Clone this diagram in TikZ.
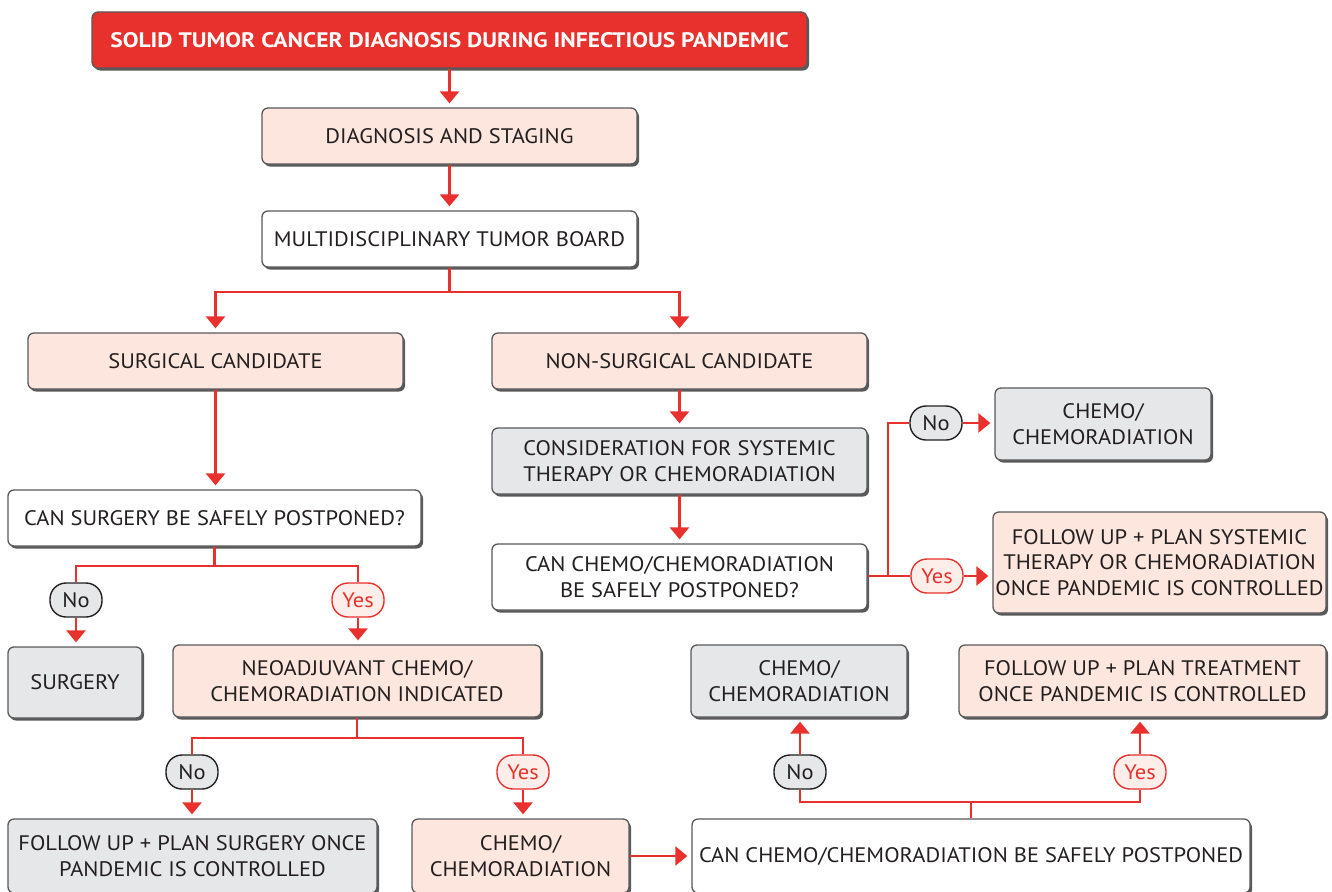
\documentclass[tikz,border=0pt]{standalone}
\usepackage{fontspec}
\setmainfont{PT Sans}[FakeStretch=1.07, BoldFeatures={FakeStretch=1.12}]
\usetikzlibrary{shadows,arrows.meta}
\definecolor{cred}{HTML}{E8312C}
\definecolor{peach}{HTML}{FCE6DD}
\definecolor{lgray}{HTML}{E6E7E8}
\definecolor{bord}{HTML}{58595B}
\definecolor{txt}{HTML}{231F20}
\definecolor{yesfill}{HTML}{FDEEEA}
\begin{document}
\begin{tikzpicture}[x=1pt,y=-1pt,
  box/.style={draw=bord, line width=1.3pt, rounded corners=6pt, align=center,
    text=txt, font=\fontsize{21}{25.5}\selectfont, inner sep=0pt,
    drop shadow={shadow xshift=2pt, shadow yshift=-2.5pt, fill=black!65, opacity=1}},
  pbox/.style={box, fill=peach},
  gbox/.style={box, fill=lgray},
  wbox/.style={box, fill=white},
  pill/.style={line width=1.4pt, rounded corners=16pt, minimum width=52pt,
    minimum height=34pt, inner sep=0pt, font=\fontsize{21}{25}\selectfont},
  nopill/.style={pill, draw=txt, fill=lgray, text=txt},
  yespill/.style={pill, draw=cred, fill=yesfill, text=cred},
  ln/.style={draw=cred, line width=2.6pt},
  arr/.style={ln, -{Triangle[width=19pt,length=12pt]}, shorten >=4pt}
]
\useasboundingbox (0,0) rectangle (1332,891);

% boxes
\node[box, fill=cred, text=white, font=\bfseries\fontsize{21}{25}\selectfont,
  minimum width=715pt, minimum height=56pt] (top) at (449.5,40) {SOLID TUMOR CANCER DIAGNOSIS DURING INFECTIOUS PANDEMIC};
\node[pbox, minimum width=375pt, minimum height=56pt] (diag) at (449.5,136) {DIAGNOSIS AND STAGING};
\node[wbox, minimum width=375pt, minimum height=56pt] (mtb) at (449.5,239) {MULTIDISCIPLINARY TUMOR BOARD};
\node[pbox, minimum width=375pt, minimum height=56pt] (surg) at (215.5,361) {SURGICAL CANDIDATE};
\node[pbox, minimum width=375pt, minimum height=56pt] (nsurg) at (679.5,361) {NON-SURGICAL CANDIDATE};
\node[wbox, minimum width=413pt, minimum height=56pt] (cansurg) at (214.5,518) {CAN SURGERY BE SAFELY POSTPONED?};
\node[gbox, minimum width=134pt, minimum height=71pt] (surgery) at (75,682.5) {SURGERY};
\node[pbox, minimum width=368pt, minimum height=72pt] (neo) at (357,681) {NEOADJUVANT CHEMO/\\CHEMORADIATION INDICATED};
\node[gbox, minimum width=369pt, minimum height=74pt] (fus) at (192.5,856) {FOLLOW UP + PLAN SURGERY ONCE\\PANDEMIC IS CONTROLLED};
\node[pbox, minimum width=217pt, minimum height=74pt] (chemoL) at (520.5,856) {CHEMO/\\CHEMORADIATION};
\node[wbox, minimum width=558pt, minimum height=74pt] (cancb) at (971,856) {CAN CHEMO/CHEMORADIATION BE SAFELY POSTPONED};
\node[gbox, minimum width=216pt, minimum height=72pt] (chemoM) at (799,681) {CHEMO/\\CHEMORADIATION};
\node[pbox, minimum width=367pt, minimum height=72pt] (fut) at (1142.5,681) {FOLLOW UP + PLAN TREATMENT\\ONCE PANDEMIC IS CONTROLLED};
\node[gbox, minimum width=375pt, minimum height=66pt] (consid) at (679.5,461) {CONSIDERATION FOR SYSTEMIC\\THERAPY OR CHEMORADIATION};
\node[wbox, minimum width=375pt, minimum height=66pt] (cancs) at (679.5,577) {CAN CHEMO/CHEMORADIATION\\BE SAFELY POSTPONED?};
\node[gbox, minimum width=216pt, minimum height=72pt] (chemoTR) at (1103,424) {CHEMO/\\CHEMORADIATION};
\node[pbox, minimum width=333pt, minimum height=101pt] (fups) at (1159.5,562.5) {FOLLOW UP + PLAN SYSTEMIC\\THERAPY OR CHEMORADIATION\\ONCE PANDEMIC IS CONTROLLED};

% pills
\node[nopill] (no1) at (76,600) {No};
\node[yespill] (yes1) at (358,600) {Yes};
\node[nopill] (no2) at (192,772) {No};
\node[yespill] (yes2) at (523,772) {Yes};
\node[nopill] (no3) at (800,772) {No};
\node[yespill] (yes3) at (1140,772) {Yes};
\node[nopill] (no4) at (936,423) {No};
\node[yespill] (yes4) at (937,576) {Yes};

% junctions
\coordinate (j1) at (449.5,292);
\coordinate (j2) at (214.5,566);
\coordinate (j3) at (357,738);
\coordinate (j4) at (971,802);
\coordinate (j5) at (888,576);

% connectors
\draw[arr] (top) -- (diag);
\draw[arr] (diag) -- (mtb);
\draw[ln] (mtb) -- (j1);
\draw[arr] (j1) -| (surg);
\draw[arr] (j1) -| (nsurg);
\draw[arr] (surg) -- (surg |- cansurg.north);
\draw[ln] (cansurg) -- (j2);
\draw[ln] (j2) -| (no1);
\draw[ln] (j2) -| (yes1);
\draw[arr] (no1) -- (no1 |- surgery.north);
\draw[arr] (yes1) -- (yes1 |- neo.north);
\draw[ln] (neo) -- (j3);
\draw[ln] (j3) -| (no2);
\draw[ln] (j3) -| (yes2);
\draw[arr] (no2) -- (no2 |- fus.north);
\draw[arr] (yes2) -- (yes2 |- chemoL.north);
\draw[arr] (chemoL.east) -- (chemoL.east -| cancb.west);
\draw[ln] (cancb) -- (j4);
\draw[ln] (j4) -| (no3);
\draw[ln] (j4) -| (yes3);
\draw[arr] (no3) -- (no3 |- chemoM.south);
\draw[arr] (yes3) -- (yes3 |- fut.south);
\draw[arr] (nsurg) -- (consid);
\draw[arr] (consid) -- (cancs);
\draw[ln] (cancs.east |- j5) -- (j5);
\draw[ln] (j5) |- (no4);
\draw[ln] (j5) -- (yes4);
\draw[arr] (no4) -- (no4 -| chemoTR.west);
\draw[arr] (yes4) -- (yes4 -| fups.west);
\end{tikzpicture}
\end{document}
